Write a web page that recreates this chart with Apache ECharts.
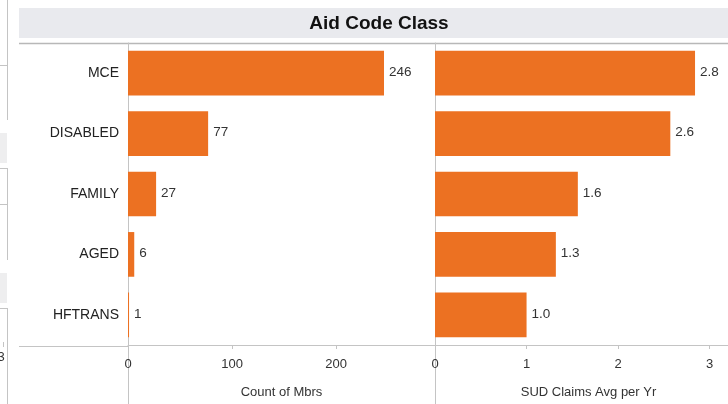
<!DOCTYPE html>
<html>
<head>
<meta charset="utf-8">
<style>
  html, body { margin: 0; padding: 0; background: #fff; }
  #chart { width: 728px; height: 404px; }
</style>
<script src="https://cdn.jsdelivr.net/npm/echarts@6/dist/echarts.min.js"></script>
</head>
<body>
<div id="chart"></div>
<script>
'use strict';

// chart data
const categories = ['MCE', 'DISABLED', 'FAMILY', 'AGED', 'HFTRANS'];
const countMbrs = [246, 77, 27, 6, 1];
const claimsAvg = [2.84, 2.57, 1.56, 1.32, 1.0];
const countTicks = [0, 100, 200];
const claimsTicks = [0, 1, 2, 3];

const barColor = '#ec7122';
const lineColor = '#c4c4c4';
const font = 'Arial, "Liberation Sans", sans-serif';

const chart = echarts.init(document.getElementById('chart'), null, { renderer: 'canvas' });

function valueAxis(gridIndex, max, step, name, shift) {
  return {
    type: 'value',
    gridIndex: gridIndex,
    min: 0,
    max: max,
    interval: step,
    name: name,
    nameLocation: 'middle',
    nameGap: 41,
    nameTextStyle: { fontFamily: font, fontSize: 13, color: '#333', padding: [0, 0, 0, shift] },
    axisLine: { show: true, lineStyle: { color: lineColor, width: 1 } },
    axisTick: { show: true, length: 4, lineStyle: { color: lineColor } },
    axisLabel: {
      fontFamily: font, fontSize: 13, color: '#333', margin: 13,
      showMaxLabel: false
    },
    splitLine: { show: false }
  };
}

function catAxis(gridIndex, showLabels) {
  return {
    type: 'category',
    gridIndex: gridIndex,
    data: categories,
    inverse: true,
    axisLine: { show: true, lineStyle: { color: lineColor, width: 1 } },
    axisTick: { show: false },
    axisLabel: {
      show: showLabels, fontFamily: font, fontSize: 14, color: '#222', margin: 9
    }
  };
}

function barSeries(idx, data, fmt) {
  return {
    type: 'bar',
    xAxisIndex: idx,
    yAxisIndex: idx,
    data: data,
    barCategoryGap: '26%',
    itemStyle: { color: barColor },
    label: {
      show: true,
      position: 'right',
      distance: 5,
      offset: [0, -1],
      fontFamily: font,
      fontSize: 13.5,
      color: '#333',
      formatter: p => fmt(p.value)
    },
    silent: true
  };
}

// frame lines and neighbouring panel fragments on the left edge
const frame = [
  { type: 'rect', shape: { x: 19, y: 8, width: 709, height: 30 }, style: { fill: '#e9eaee' } },
  { type: 'text', x: 379, y: 24, style: {
      text: 'Aid Code Class', font: 'bold 19px ' + font, fill: '#111',
      align: 'center', verticalAlign: 'middle' } },
  { type: 'line', shape: { x1: 19, y1: 43.5, x2: 728, y2: 43.5 }, style: { stroke: '#b8b8b8', lineWidth: 1.5 } },
  { type: 'line', shape: { x1: 19, y1: 346.5, x2: 128, y2: 346.5 }, style: { stroke: lineColor } },
  { type: 'line', shape: { x1: 128.5, y1: 346, x2: 128.5, y2: 404 }, style: { stroke: lineColor } },
  { type: 'line', shape: { x1: 435.5, y1: 346, x2: 435.5, y2: 404 }, style: { stroke: lineColor } },
  // left edge fragments
  { type: 'line', shape: { x1: 7.5, y1: 0, x2: 7.5, y2: 120 }, style: { stroke: lineColor } },
  { type: 'line', shape: { x1: 0, y1: 65.5, x2: 7, y2: 65.5 }, style: { stroke: lineColor } },
  { type: 'rect', shape: { x: 0, y: 133, width: 7, height: 30 }, style: { fill: '#eeeeef' } },
  { type: 'line', shape: { x1: 0, y1: 168.5, x2: 7, y2: 168.5 }, style: { stroke: lineColor } },
  { type: 'line', shape: { x1: 7.5, y1: 168, x2: 7.5, y2: 260 }, style: { stroke: lineColor } },
  { type: 'line', shape: { x1: 0, y1: 204.5, x2: 7, y2: 204.5 }, style: { stroke: lineColor } },
  { type: 'rect', shape: { x: 0, y: 273, width: 7, height: 30 }, style: { fill: '#eeeeef' } },
  { type: 'line', shape: { x1: 0, y1: 308.5, x2: 7, y2: 308.5 }, style: { stroke: lineColor } },
  { type: 'line', shape: { x1: 7.5, y1: 308, x2: 7.5, y2: 404 }, style: { stroke: lineColor } },
  { type: 'line', shape: { x1: 3.5, y1: 342, x2: 3.5, y2: 347 }, style: { stroke: lineColor } },
  { type: 'text', x: 1, y: 357, style: {
      text: '3', font: '13px ' + font, fill: '#333', align: 'center', verticalAlign: 'middle' } }
];

const option = {
  animation: false,
  backgroundColor: '#fff',
  grid: [
    { left: 128, top: 43, width: 307, height: 303 },
    { left: 435, top: 43, width: 293, height: 303 }
  ],
  xAxis: [
    valueAxis(0, 295, countTicks[1] - countTicks[0], 'Count of Mbrs', 0),
    valueAxis(1, 3.2, claimsTicks[1] - claimsTicks[0], 'SUD Claims Avg per Yr', 14)
  ],
  yAxis: [catAxis(0, true), catAxis(1, false)],
  series: [
    barSeries(0, countMbrs, v => String(v)),
    barSeries(1, claimsAvg, v => v.toFixed(1))
  ],
  graphic: frame
};

chart.setOption(option);
</script>
</body>
</html>
